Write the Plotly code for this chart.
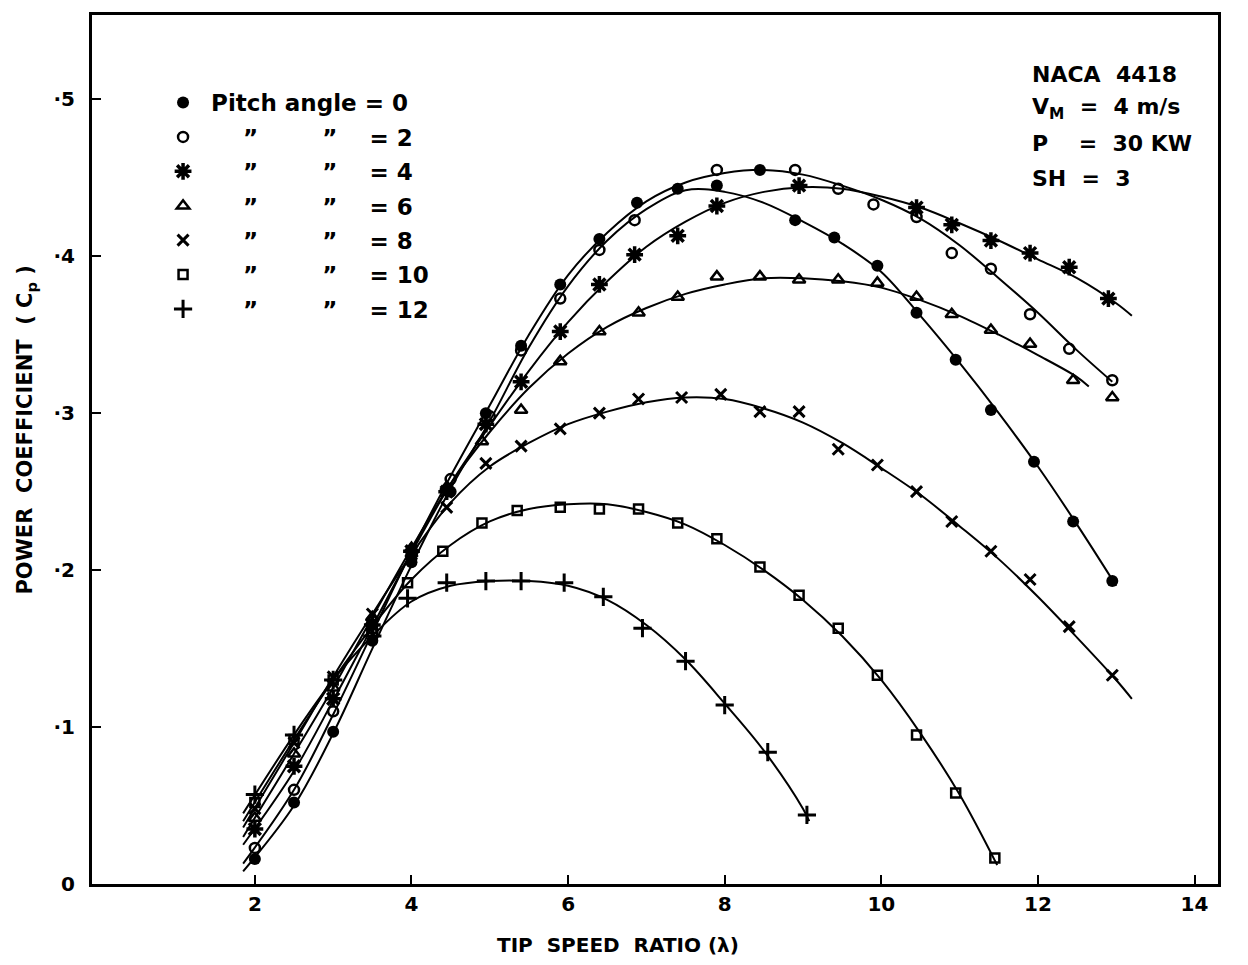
import plotly.graph_objects as go

# ---- measured points (tip speed ratio, power coefficient) per pitch angle ----
lam_p0 = [2.0, 2.5, 3.0, 3.5, 4.0, 4.5, 4.95, 5.4, 5.9, 6.4, 6.88, 7.4, 7.9, 8.45, 8.9, 9.4, 9.95, 10.45, 10.95, 11.4, 11.95, 12.45, 12.95]
cp_p0 = [0.016, 0.052, 0.097, 0.155, 0.205, 0.25, 0.300, 0.343, 0.382, 0.411, 0.434, 0.443, 0.445, 0.455, 0.423, 0.412, 0.394, 0.364, 0.334, 0.302, 0.269, 0.231, 0.193]

lam_p2 = [2.0, 2.5, 3.0, 3.5, 4.0, 4.5, 5.0, 5.4, 5.9, 6.4, 6.85, 7.9, 8.9, 9.45, 9.9, 10.45, 10.9, 11.4, 11.9, 12.4, 12.95]
cp_p2 = [0.023, 0.060, 0.110, 0.160, 0.210, 0.258, 0.298, 0.340, 0.373, 0.404, 0.423, 0.455, 0.455, 0.443, 0.433, 0.425, 0.402, 0.392, 0.363, 0.341, 0.321]

lam_p4 = [2.0, 2.5, 3.0, 3.5, 4.0, 4.45, 4.95, 5.4, 5.9, 6.4, 6.85, 7.4, 7.9, 8.95, 10.45, 10.9, 11.4, 11.9, 12.4, 12.9]
cp_p4 = [0.035, 0.075, 0.118, 0.165, 0.212, 0.250, 0.293, 0.320, 0.352, 0.382, 0.401, 0.413, 0.432, 0.445, 0.431, 0.420, 0.410, 0.402, 0.393, 0.373]

lam_p6 = [2.0, 2.5, 3.0, 3.5, 4.0, 4.45, 4.9, 5.4, 5.9, 6.4, 6.9, 7.4, 7.9, 8.45, 8.95, 9.45, 9.95, 10.45, 10.9, 11.4, 11.9, 12.45, 12.95]
cp_p6 = [0.042, 0.083, 0.125, 0.170, 0.214, 0.253, 0.282, 0.302, 0.333, 0.352, 0.364, 0.374, 0.387, 0.387, 0.385, 0.385, 0.383, 0.374, 0.363, 0.353, 0.344, 0.321, 0.310]

lam_p8 = [2.0, 2.5, 3.0, 3.5, 4.0, 4.45, 4.95, 5.4, 5.9, 6.4, 6.9, 7.45, 7.95, 8.45, 8.95, 9.45, 9.95, 10.45, 10.9, 11.4, 11.9, 12.4, 12.95]
cp_p8 = [0.048, 0.090, 0.132, 0.172, 0.210, 0.240, 0.268, 0.279, 0.290, 0.300, 0.309, 0.310, 0.312, 0.301, 0.301, 0.277, 0.267, 0.250, 0.231, 0.212, 0.194, 0.164, 0.133]

lam_p10 = [2.0, 2.5, 3.0, 3.5, 3.95, 4.4, 4.9, 5.35, 5.9, 6.4, 6.9, 7.4, 7.9, 8.45, 8.95, 9.45, 9.95, 10.45, 10.95, 11.45]
cp_p10 = [0.052, 0.092, 0.130, 0.163, 0.192, 0.212, 0.230, 0.238, 0.240, 0.239, 0.239, 0.230, 0.220, 0.202, 0.184, 0.163, 0.133, 0.095, 0.058, 0.0165]

lam_p12 = [2.0, 2.5, 3.0, 3.5, 3.95, 4.45, 4.95, 5.4, 5.95, 6.45, 6.95, 7.5, 8.0, 8.55, 9.05]
cp_p12 = [0.057, 0.095, 0.130, 0.158, 0.182, 0.192, 0.193, 0.193, 0.192, 0.183, 0.163, 0.142, 0.114, 0.084, 0.044]

# ---- faired curves (knots) per pitch angle ----
fit_lam_p0 = [1.85, 2.5, 3, 3.5, 4, 4.5, 5, 5.5, 6, 6.5, 7, 7.5, 8, 8.5, 9, 9.5, 10, 10.5, 11, 11.5, 12, 12.5, 13]
fit_cp_p0 = [0.008, 0.050, 0.096, 0.150, 0.203, 0.252, 0.295, 0.342, 0.381, 0.410, 0.430, 0.442, 0.441, 0.434, 0.422, 0.408, 0.390, 0.362, 0.332, 0.300, 0.266, 0.229, 0.190]

fit_lam_p2 = [1.85, 2.5, 3, 3.5, 4, 4.5, 5, 5.5, 6, 6.5, 7, 7.5, 8, 8.5, 9, 9.5, 10, 10.5, 11, 11.5, 12, 12.5, 12.95]
fit_cp_p2 = [0.013, 0.060, 0.108, 0.160, 0.212, 0.260, 0.305, 0.350, 0.388, 0.415, 0.435, 0.447, 0.453, 0.455, 0.452, 0.445, 0.436, 0.424, 0.407, 0.386, 0.364, 0.340, 0.320]

fit_lam_p4 = [1.85, 2.5, 3, 3.5, 4, 4.5, 5, 5.5, 6, 6.5, 7, 7.5, 8, 8.5, 9, 9.5, 10, 10.5, 11, 11.5, 12, 12.5, 13, 13.2]
fit_cp_p4 = [0.025, 0.072, 0.117, 0.164, 0.211, 0.255, 0.292, 0.327, 0.358, 0.384, 0.406, 0.422, 0.434, 0.441, 0.444, 0.443, 0.438, 0.431, 0.421, 0.410, 0.398, 0.386, 0.370, 0.362]

fit_lam_p6 = [1.85, 2.5, 3, 3.5, 4, 4.5, 5, 5.5, 6, 6.5, 7, 7.5, 8, 8.5, 9, 9.5, 10, 10.5, 11, 11.5, 12, 12.5, 12.65]
fit_cp_p6 = [0.030, 0.083, 0.125, 0.170, 0.214, 0.255, 0.288, 0.316, 0.338, 0.355, 0.367, 0.376, 0.382, 0.386, 0.386, 0.384, 0.380, 0.372, 0.362, 0.350, 0.337, 0.323, 0.317]

fit_lam_p8 = [1.85, 2.5, 3, 3.5, 4, 4.5, 5, 5.5, 6, 6.5, 7, 7.5, 8, 8.5, 9, 9.5, 10, 10.5, 11, 11.5, 12, 12.5, 13, 13.2]
fit_cp_p8 = [0.036, 0.090, 0.132, 0.172, 0.210, 0.243, 0.266, 0.281, 0.293, 0.301, 0.307, 0.310, 0.309, 0.303, 0.294, 0.281, 0.265, 0.248, 0.228, 0.207, 0.183, 0.157, 0.130, 0.118]

fit_lam_p10 = [1.85, 2.5, 3, 3.5, 4, 4.5, 5, 5.5, 6, 6.5, 7, 7.5, 8, 8.5, 9, 9.5, 10, 10.5, 11, 11.48]
fit_cp_p10 = [0.040, 0.092, 0.130, 0.164, 0.194, 0.216, 0.231, 0.239, 0.242, 0.242, 0.237, 0.229, 0.216, 0.200, 0.181, 0.158, 0.130, 0.096, 0.057, 0.012]

fit_lam_p12 = [1.85, 2.5, 3, 3.5, 4, 4.5, 5, 5.5, 6, 6.5, 7, 7.5, 8, 8.5, 9, 9.08]
fit_cp_p12 = [0.045, 0.095, 0.130, 0.158, 0.180, 0.190, 0.193, 0.193, 0.190, 0.181, 0.165, 0.143, 0.115, 0.085, 0.048, 0.040]

x_ticks = [2, 4, 6, 8, 10, 12, 14]
y_ticks = [0, 0.1, 0.2, 0.3, 0.4, 0.5]
y_tick_labels = ["0", "·1", "·2", "·3", "·4", "·5"]

NB = "\u00a0"
DITTO = "\u201d"
ditto_prefix = NB * 4 + DITTO + NB * 8 + DITTO + NB * 4 + "=" + NB
legend_names = ["Pitch angle = 0"] + [ditto_prefix + v for v in ["2", "4", "6", "8", "10", "12"]]

FONT = "DejaVu Sans"
INK = "black"

series = [
    (lam_p0, cp_p0, fit_lam_p0, fit_cp_p0, dict(symbol="circle", size=12, color=INK)),
    (lam_p2, cp_p2, fit_lam_p2, fit_cp_p2, dict(symbol="circle-open", size=10, color=INK, line=dict(width=2.5, color=INK))),
    (lam_p4, cp_p4, fit_lam_p4, fit_cp_p4, dict(symbol="asterisk-open", size=14, color=INK, line=dict(width=3.5, color=INK))),
    (lam_p6, cp_p6, fit_lam_p6, fit_cp_p6, dict(symbol="triangle-up-open", size=11, color=INK, line=dict(width=2.5, color=INK))),
    (lam_p8, cp_p8, fit_lam_p8, fit_cp_p8, dict(symbol="x-thin-open", size=11, color=INK, line=dict(width=3, color=INK))),
    (lam_p10, cp_p10, fit_lam_p10, fit_cp_p10, dict(symbol="square-open", size=9, color=INK, line=dict(width=2.5, color=INK))),
    (lam_p12, cp_p12, fit_lam_p12, fit_cp_p12, dict(symbol="cross-thin-open", size=13, color=INK, line=dict(width=3, color=INK))),
]

fig = go.Figure()

# faired curves
for lx, ly, fx, fy, mk in series:
    fig.add_trace(go.Scatter(
        x=fx, y=fy, mode="lines", showlegend=False, hoverinfo="skip",
        line=dict(color=INK, width=2, shape="spline", smoothing=1.0),
    ))

# measured points
for i, (lx, ly, fx, fy, mk) in enumerate(series):
    fig.add_trace(go.Scatter(
        x=lx, y=ly, mode="markers", name=legend_names[i],
        legendgroup=f"g{i}", marker=mk,
    ))

fig.update_layout(
    width=1248, height=965,
    paper_bgcolor="white", plot_bgcolor="white",
    margin=dict(l=92, r=30, t=12, b=81),
    font=dict(family=FONT, color=INK, size=20, weight="bold"),
    showlegend=True,
    legend=dict(
        x=0.056, y=0.924, xanchor="left", yanchor="top",
        bgcolor="rgba(0,0,0,0)", borderwidth=0,
        font=dict(family=FONT, size=23, color=INK, weight="bold"),
        tracegroupgap=1.5, traceorder="grouped", itemwidth=46,
    ),
    xaxis=dict(
        range=[-0.08, 14.3], tickmode="array", tickvals=x_ticks,
        ticks="inside", ticklen=9, tickwidth=2, tickcolor=INK,
        showline=True, linewidth=3, linecolor=INK, mirror=True,
        showgrid=False, zeroline=False,
        tickfont=dict(family=FONT, size=20, weight="bold"),
    ),
    yaxis=dict(
        range=[0, 0.5537], tickmode="array", tickvals=y_ticks, ticktext=y_tick_labels,
        ticks="inside", ticklen=9, tickwidth=2, tickcolor=INK,
        showline=True, linewidth=3, linecolor=INK, mirror=True,
        showgrid=False, zeroline=False, ticklabelstandoff=10,
        tickfont=dict(family=FONT, size=20, weight="bold"),
    ),
)

# axis titles
fig.add_annotation(
    text="TIP  SPEED  RATIO (λ)", xref="paper", yref="paper",
    x=(618 - 92) / 1126, y=-(945 - 884) / 872, xanchor="center", yanchor="middle",
    showarrow=False, font=dict(family=FONT, size=20, weight="bold"),
)
fig.add_annotation(
    text="POWER  COEFFICIENT  ( C<sub>p</sub> )", xref="paper", yref="paper",
    x=-(92 - 26) / 1126, y=(884 - 428) / 872, xanchor="center", yanchor="middle",
    textangle=-90, showarrow=False, font=dict(family=FONT, size=21, weight="bold"),
)

# case description block
info_lines = [
    ("NACA  4418", 72),
    ("V<sub>M</sub>  =  4 m/s", 106),
    ("P    =  30 KW", 141),
    ("SH  =  3", 176),
]
for txt, ypix in info_lines:
    fig.add_annotation(
        text=txt, xref="paper", yref="paper",
        x=(1030 - 92) / 1126, y=(884 - ypix) / 872, xanchor="left", yanchor="middle",
        showarrow=False, font=dict(family=FONT, size=22, weight="bold"),
    )

fig.write_html("out.html")
